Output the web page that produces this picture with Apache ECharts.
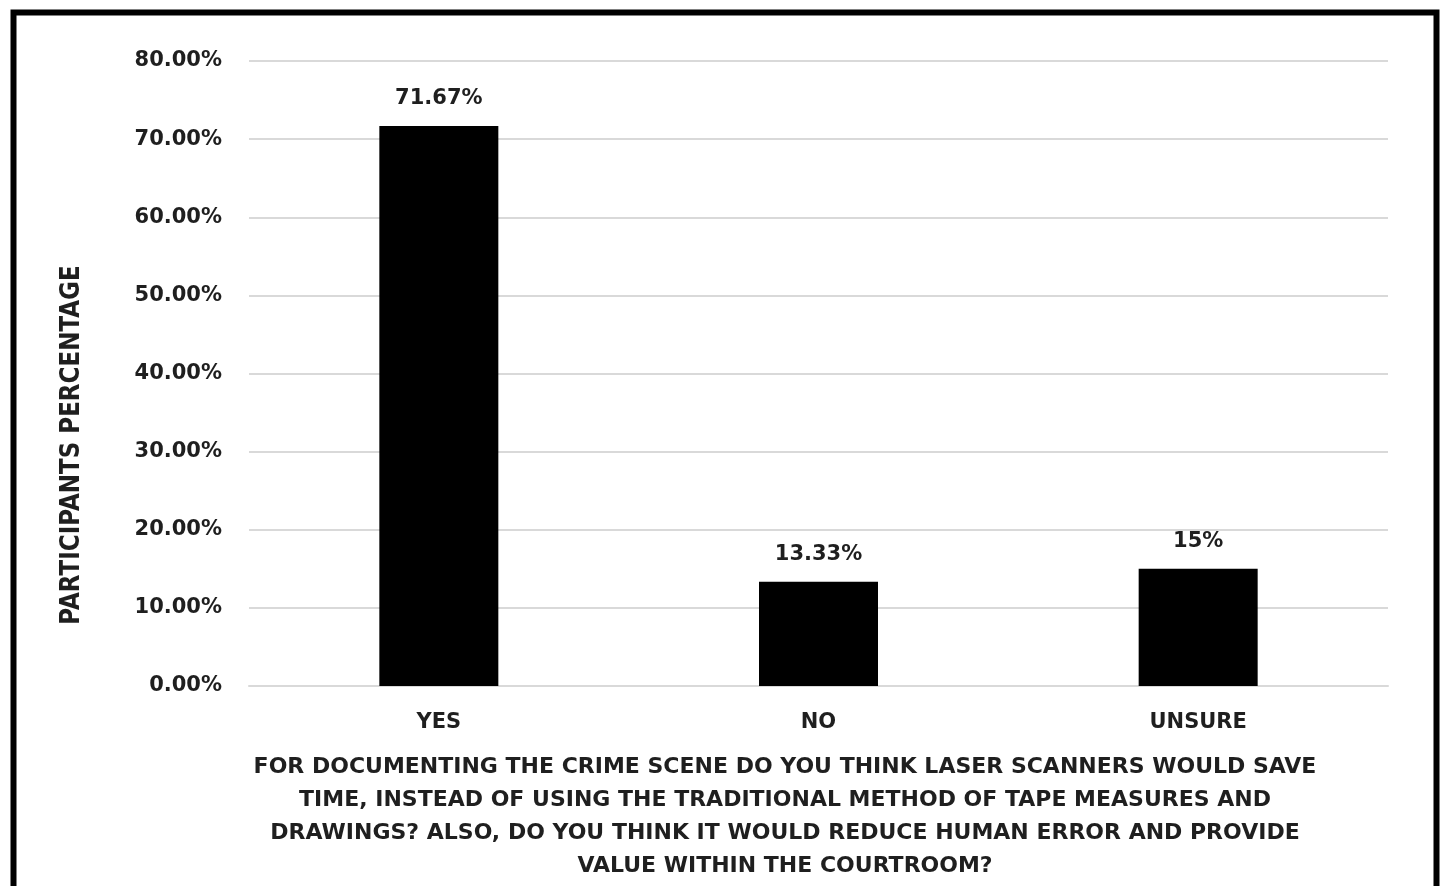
<!DOCTYPE html>
<html>
<head>
<meta charset="utf-8">
<script src="https://cdn.jsdelivr.net/npm/echarts@6/dist/echarts.min.js"></script>
<style>
html,body{margin:0;padding:0;background:#fff;}
#chart{width:1449px;height:886px;}
</style>
</head>
<body>
<div id="chart"></div>
<script>
const categories = ['YES', 'NO', 'UNSURE'];
const values = [71.67, 13.33, 15];
const valueLabels = ['71.67%', '13.33%', '15%'];
const yTicks = { min: 0, max: 80, interval: 10 };
const yAxisTitle = 'PARTICIPANTS PERCENTAGE';
const xAxisTitle = 'FOR DOCUMENTING THE CRIME SCENE DO YOU THINK LASER SCANNERS WOULD SAVE\nTIME, INSTEAD OF USING THE TRADITIONAL METHOD OF TAPE MEASURES AND\nDRAWINGS? ALSO, DO YOU THINK IT WOULD REDUCE HUMAN ERROR AND PROVIDE\nVALUE WITHIN THE COURTROOM?';

const FONT = '"DejaVu Sans"';
const TXT = '#1f1f1f';
const chart = echarts.init(document.getElementById('chart'), null, {renderer: 'canvas'});
chart.setOption({
  animation: false,
  backgroundColor: '#fff',
  textStyle: { fontFamily: FONT },
  grid: { left: 249, right: 61, top: 61, bottom: 200, containLabel: false },
  xAxis: {
    type: 'category',
    data: categories,
    axisLine: { show: true, lineStyle: { color: '#d9d9d9', width: 2 } },
    axisTick: { show: false },
    axisLabel: { color: TXT, fontFamily: FONT, fontWeight: 'bold', fontSize: 21, margin: 26 }
  },
  yAxis: {
    type: 'value',
    min: yTicks.min, max: yTicks.max, interval: yTicks.interval,
    axisLine: { show: false },
    axisTick: { show: false },
    splitLine: { lineStyle: { color: '#d9d9d9', width: 2 } },
    axisLabel: {
      color: TXT, fontFamily: FONT, fontWeight: 'bold', fontSize: 21, margin: 27,
      formatter: v => v.toFixed(2) + '%'
    }
  },
  series: [{
    type: 'bar',
    data: values,
    barWidth: 119,
    itemStyle: { color: '#000' },
    label: {
      show: true, position: 'top', distance: 17,
      color: TXT, fontFamily: FONT, fontWeight: 'bold', fontSize: 21,
      formatter: p => valueLabels[p.dataIndex]
    }
  }],
  graphic: [
    {
      type: 'rect', silent: true,
      shape: { x: 13.5, y: 12.5, width: 1423, height: 900 },
      style: { fill: 'none', stroke: '#000', lineWidth: 6 }
    },
    {
      type: 'text', silent: true,
      x: 72, y: 445, rotation: Math.PI / 2, scaleY: 1.12,
      style: {
        text: yAxisTitle, textAlign: 'center', textVerticalAlign: 'middle',
        fill: TXT, font: 'bold 23px ' + FONT
      }
    },
    {
      type: 'text', silent: true,
      x: 785, y: 751,
      style: {
        text: xAxisTitle, textAlign: 'center', textVerticalAlign: 'top',
        fill: TXT, font: 'bold 22px ' + FONT, lineHeight: 33
      }
    }
  ]
});
</script>
</body>
</html>
